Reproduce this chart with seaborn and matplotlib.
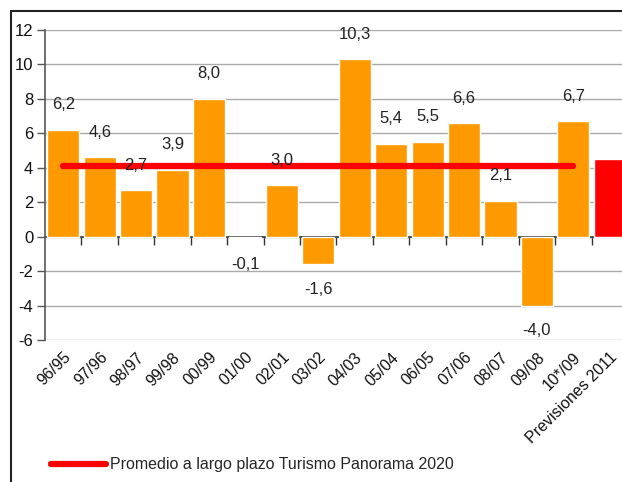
import matplotlib
matplotlib.use("Agg")
import matplotlib.pyplot as plt
import seaborn as sns
import pandas as pd
from matplotlib.lines import Line2D
from matplotlib.patches import Rectangle

categories = ["96/95", "97/96", "98/97", "99/98", "00/99", "01/00", "02/01", "03/02",
              "04/03", "05/04", "06/05", "07/06", "08/07", "09/08", "10*/09", "Previsiones 2011"]
values = [6.2, 4.6, 2.7, 3.9, 8.0, -0.1, 3.0, -1.6, 10.3, 5.4, 5.5, 6.6, 2.1, -4.0, 6.7, 4.5]
value_labels = ["6,2", "4,6", "2,7", "3,9", "8,0", "-0,1", "3,0", "-1,6", "10,3", "5,4",
                "5,5", "6,6", "2,1", "-4,0", "6,7", ""]
average_value = 4.1
average_span = ["96/95", "10*/09"]
legend_label = "Promedio a largo plazo Turismo Panorama 2020"
yticks = [-6, -4, -2, 0, 2, 4, 6, 8, 10, 12]

sns.set_theme(style="white")
fams = ["Liberation Sans Narrow", "Liberation Sans", "DejaVu Sans"]
plt.rcParams["font.family"] = fams

df = pd.DataFrame({"cat": categories, "val": values})
colors = ["#FF9900"] * (len(categories) - 1) + ["#FF0000"]

fig = plt.figure(figsize=(6.22, 4.82), dpi=100)
ax = fig.add_axes([45 / 622, 1 - 340 / 482, 583 / 622, (340 - 30) / 482])

sns.barplot(data=df, x="cat", y="val", hue="cat", palette=colors, legend=False,
            width=0.88, saturation=1, ax=ax, zorder=3)

ax.set_ylim(-6, 12)
ax.set_xlim(-0.5, len(categories) - 0.5)
ax.set_yticks(yticks)
ax.set_yticklabels([str(t) for t in yticks], fontsize=12, color="#111111")
for t in yticks:
    ax.axhline(t, color="#aaaaaa", lw=1, zorder=1)
ax.axhline(0, color="#333333", lw=1.2, zorder=2)

for s in ["top", "right", "bottom"]:
    ax.spines[s].set_visible(False)
ax.spines["left"].set_color("#555555")
ax.spines["left"].set_linewidth(1.2)
ax.tick_params(axis="y", direction="out", length=5.5, color="#555555", width=1, pad=3, left=True)

ax.set_xticks(range(len(categories)))
ax.set_xticklabels(categories, rotation=45, ha="right", rotation_mode="anchor",
                   fontsize=11.5, color="#111111")
ax.tick_params(axis="x", length=0, pad=7)
ax.set_xlabel("")
ax.set_ylabel("")

sec = ax.secondary_xaxis(1 / 3)
sec.set_xticks([i + 0.5 for i in range(len(categories) - 1)])
sec.set_xticklabels([])
sec.tick_params(axis="x", direction="out", length=6, color="#333333", width=1)
sec.spines["bottom"].set_visible(False)

# average line
x0 = categories.index(average_span[0])
x1 = categories.index(average_span[1])
ax.plot([x0, x1], [average_value, average_value], color="#FF0000", lw=4.5,
        solid_capstyle="round", zorder=5)

for i, (v, lab) in enumerate(zip(values, value_labels)):
    if not lab:
        continue
    y = v + 1.45 if v >= 0 else v - 1.45
    if v < 0 and v > -0.5:
        y = v - 1.5
    ax.text(i, y, lab, ha="center", va="center", fontsize=12, color="#222222", zorder=6)

handle = Line2D([0], [0], color="#FF0000", lw=4.5, solid_capstyle="round")
fig.legend([handle], [legend_label], loc="center left",
           bbox_to_anchor=(37 / 622, 1 - 465 / 482), frameon=False,
           prop={"family": fams, "size": 11.5}, handlelength=3.4, handletextpad=0.3)

fig.patches.append(Rectangle((11 / 622, -0.1), 1.2, 1 - 11 / 482 + 0.1,
                             transform=fig.transFigure, fill=False,
                             edgecolor="#222222", lw=1.5))

fig.savefig("out.png", dpi=100)
